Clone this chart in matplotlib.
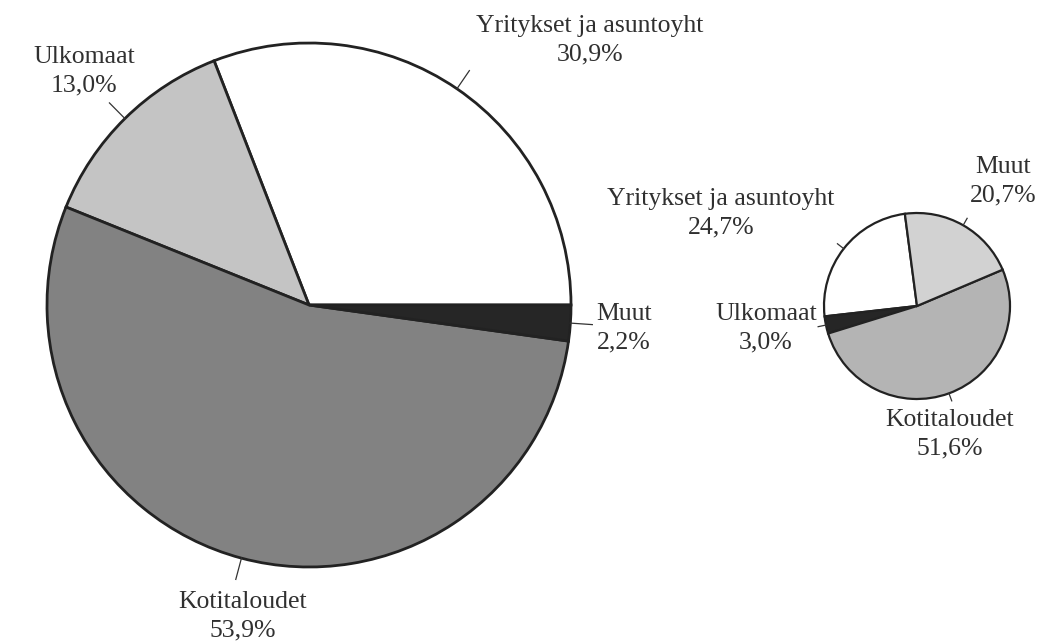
#!/usr/bin/env python3

import matplotlib
matplotlib.use("Agg")
import matplotlib.pyplot as plt
import numpy as np

#####
##### Data
#####

LABELS_BIG = ["Yritykset ja asuntoyht", "Ulkomaat", "Kotitaloudet", "Muut"]
VALUES_BIG = [30.9, 13.0, 53.9, 2.2]
COLORS_BIG = ["#ffffff", "#c4c4c4", "#828282", "#262626"]

LABELS_SMALL = ["Yritykset ja asuntoyht", "Ulkomaat", "Kotitaloudet", "Muut"]
VALUES_SMALL = [24.7, 3.0, 51.6, 20.7]
COLORS_SMALL = ["#ffffff", "#262626", "#b4b4b4", "#d2d2d2"]

#####
##### Layout (pixel coords, y from top)
#####

W, H = 1042, 643
CENTER_BIG, R_BIG, START_BIG = (309, 305), 262, 0
CENTER_SMALL, R_SMALL, START_SMALL = (917, 306), 93, 97.5

# label text anchor per slice (x, y, ha)
POS_BIG = [(590, 40, "center"), (84, 71, "center"), (243, 616, "center"), (596, 328, "left")]
POS_SMALL = [(721, 213, "center"), (766, 328, "center"), (950, 434, "center"), (1003, 181, "center")]

TEXT_COLOR = "#303030"
FONT = "Liberation Serif"
FONT_SIZE = 18.5


def fmtPct(v):
    return "{:.1f}%".format(v).replace(".", ",")


def drawPie(ax, values, colors, labels, center, radius, start, positions, lw):
    cx, cy = center[0], H - center[1]
    wedges, _ = ax.pie(values, colors=colors, center=(cx, cy), radius=radius,
                       startangle=start, counterclock=True,
                       wedgeprops=dict(edgecolor="#222222", linewidth=lw))
    for w, lab, v, (tx, ty, ha) in zip(wedges, labels, values, positions):
        ang = np.deg2rad((w.theta1 + w.theta2) / 2)
        r0, r1 = radius, radius + 22 if radius > 150 else radius + 8
        ax.plot([cx + r0*np.cos(ang), cx + r1*np.cos(ang)],
                [cy + r0*np.sin(ang), cy + r1*np.sin(ang)],
                color="#333333", linewidth=0.9)
        ax.text(tx, H - ty, lab + "\n" + fmtPct(v), ha=ha, va="center",
                multialignment="center", linespacing=1.4,
                fontsize=FONT_SIZE, family=FONT, color=TEXT_COLOR)


fig = plt.figure(figsize=(W/100, H/100), dpi=100)
ax = fig.add_axes([0, 0, 1, 1])
ax.set_xlim(0, W)
ax.set_ylim(0, H)
ax.set_aspect("equal")
ax.axis("off")

drawPie(ax, VALUES_BIG, COLORS_BIG, LABELS_BIG, CENTER_BIG, R_BIG, START_BIG, POS_BIG, 2.0)
drawPie(ax, VALUES_SMALL, COLORS_SMALL, LABELS_SMALL, CENTER_SMALL, R_SMALL, START_SMALL, POS_SMALL, 1.6)

ax.set_xlim(0, W)
ax.set_ylim(0, H)

plt.savefig("out.png", dpi=100, facecolor="white")
plt.close()
